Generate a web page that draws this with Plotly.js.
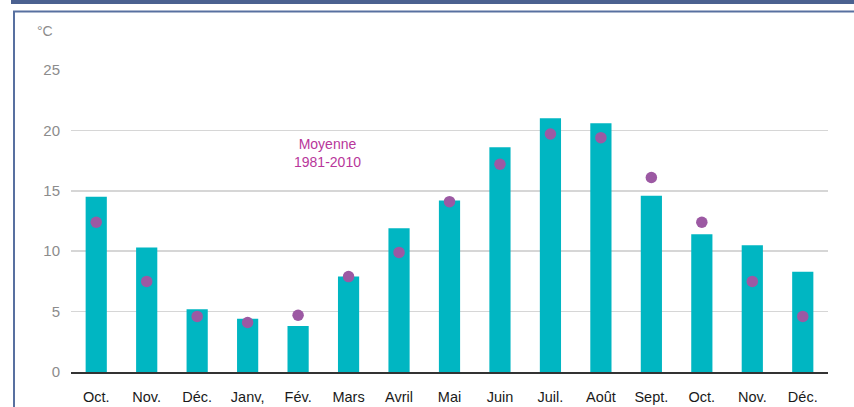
<!DOCTYPE html>
<html><head><meta charset="utf-8">
<script src="https://cdn.plot.ly/plotly-3.0.1.min.js"></script>
<style>html,body{margin:0;padding:0;background:#fff}#c{width:854px;height:407px}</style>
</head><body><div id="c"></div>
<script>
const months = ["Oct.","Nov.","Déc.","Janv,","Fév.","Mars","Avril","Mai","Juin","Juil.","Août","Sept.","Oct.","Nov.","Déc."];
const monthly = [14.5,10.3,5.2,4.4,3.8,7.9,11.9,14.2,18.6,21.0,20.6,14.6,11.4,10.5,8.3];
const normal = [12.4,7.5,4.6,4.1,4.7,7.9,9.9,14.1,17.2,19.7,19.4,16.1,12.4,7.5,4.6];
const idx = months.map((m,i)=>i);

const traces = [
 {type:'bar', x:idx, y:monthly, width:0.42, marker:{color:'#00b6c2'}, hoverinfo:'y', showlegend:false},
 {type:'scatter', mode:'markers', x:idx, y:normal, marker:{color:'#9c59a3', size:11.5}, showlegend:false}
];
const layout = {
 width:854, height:407,
 margin:{l:71, r:26, t:70, b:35},
 paper_bgcolor:'#fff', plot_bgcolor:'#fff',
 font:{family:'Liberation Sans, Arial, sans-serif', size:14, color:'#222'},
 xaxis:{tickmode:'array', tickvals:idx, ticktext:months, range:[-0.5,14.5], showgrid:false, zeroline:false,
   showline:true, linecolor:'#333', linewidth:1.5, ticks:'', ticklabelstandoff:11, tickfont:{size:14.5, color:'#1a1a1a'}, fixedrange:true},
 yaxis:{range:[0,25], dtick:5, tick0:0, showgrid:true, gridcolor:'#d6d6d6', gridwidth:1.5, zeroline:false,
   showline:false, ticks:'', ticklabelstandoff:10, tickfont:{size:15, color:'#8c8c8c'}, fixedrange:true},
 bargap:0.58,
 annotations:[
  {xref:'paper', yref:'paper', x:(45-71)/757, y:(372-31)/302, text:'°C', showarrow:false, xanchor:'center', yanchor:'middle', font:{size:14, color:'#8c8c8c'}},
  {xref:'paper', yref:'y', x:(327-71)/757, y:18.15, text:'Moyenne<br>1981-2010', showarrow:false, xanchor:'center', yanchor:'middle', font:{size:14, color:'#b8379b'}}
 ],
 shapes:[
  {type:'rect', xref:'paper', yref:'paper', x0:(11-71)/757, x1:1.2, y0:(372-4)/302, y1:1.4, fillcolor:'#4b6190', line:{width:0}, layer:'above'},
  {type:'rect', xref:'paper', yref:'paper', x0:(14-71)/757, x1:1.2, y0:-0.3, y1:(372-11.5)/302, fillcolor:'rgba(0,0,0,0)', line:{color:'#5870a0', width:2}, layer:'above'}
 ]
};
Plotly.newPlot('c', traces, layout, {displayModeBar:false, staticPlot:true});
</script></body></html>
